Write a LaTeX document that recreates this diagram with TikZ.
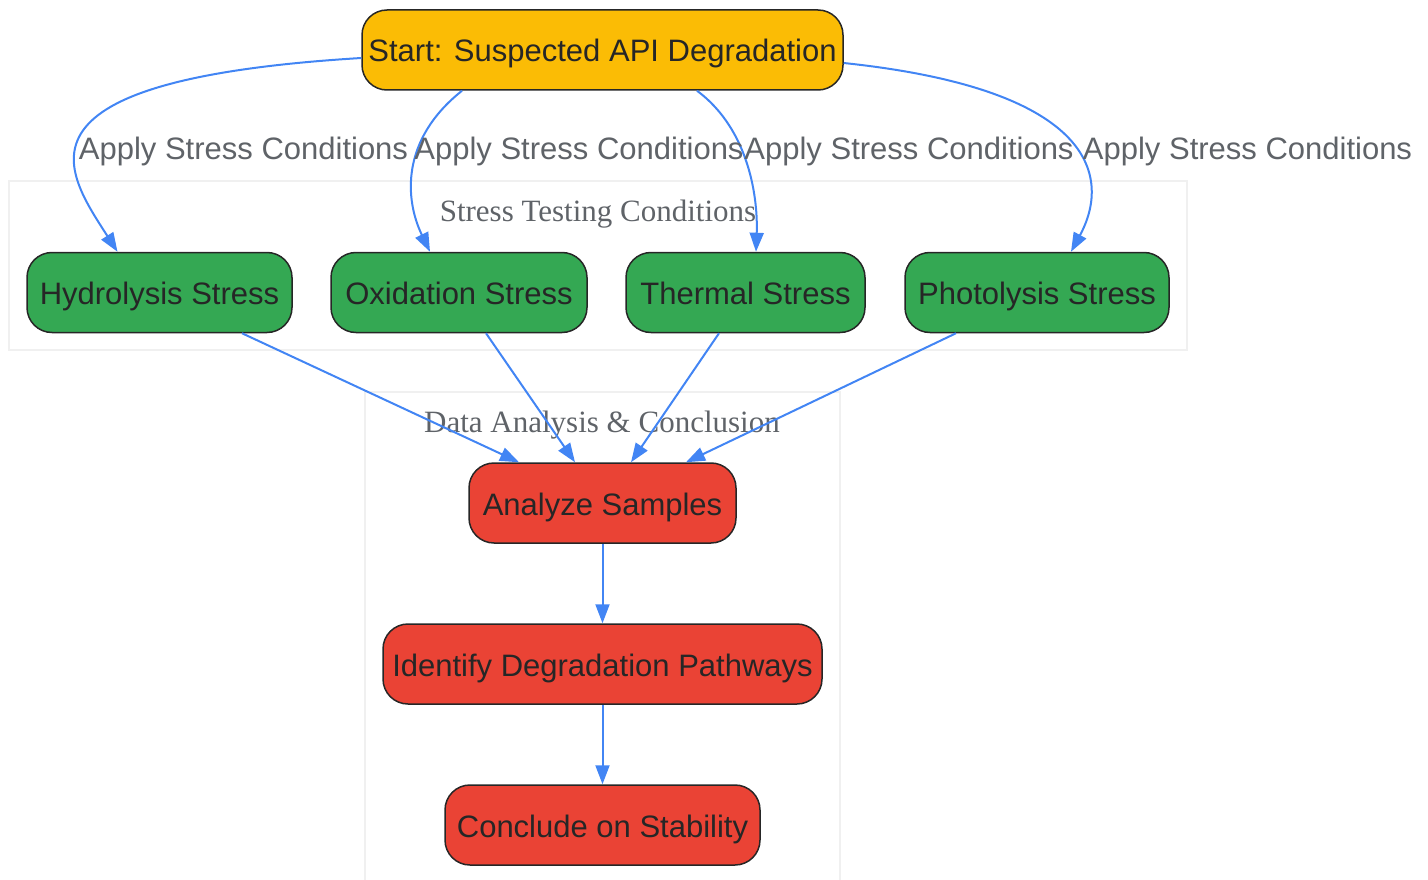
\documentclass[tikz,border=0pt]{standalone}
\usepackage{fontspec}
\setmainfont{Liberation Serif}
\setsansfont{Liberation Sans}
\usetikzlibrary{arrows.meta}
\definecolor{gyellow}{HTML}{FBBC05}
\definecolor{ggreen}{HTML}{34A853}
\definecolor{gred}{HTML}{EA4335}
\definecolor{gblue}{HTML}{4285F4}
\definecolor{ggray}{HTML}{5F6368}
\definecolor{bordgris}{HTML}{F0F0F0}
\begin{document}
\begin{tikzpicture}[x=1pt,y=-1pt,
  etape/.style={draw=black!85,line width=1.5pt,rounded corners=25pt,minimum height=80pt,text height=24pt,text depth=0pt,font=\sffamily\fontsize{31}{37}\selectfont,text=black!85},
  fleche/.style={gblue,line width=2pt,-{Triangle[length=19pt,width=14pt]}},
  lbl/.style={text height=24pt,text depth=0pt,font=\sffamily\fontsize{31}{37}\selectfont,text=ggray},
  grp/.style={draw=bordgris,line width=1.5pt},
  grplbl/.style={text height=24pt,text depth=0pt,font=\rmfamily\fontsize{31}{37}\selectfont,text=ggray}]
\useasboundingbox (0,0) rectangle (1428,880);
% les deux groupes
\draw[grp] (9,181) rectangle (1187,350);
\draw[grp] (365,392) rectangle (840,884);
\node[grplbl] (g1) at (598,210) {Stress Testing Conditions};
\node[grplbl] (g2) at (602,420) {Data Analysis \& Conclusion};
% les etapes
\node[etape,fill=gyellow,minimum width=481pt] (start) at (602.5,50) {Start: Suspected API Degradation};
\foreach \i/\x/\w/\t in {1/159.5/265/Hydrolysis, 2/459/256/Oxidation, 3/745.5/239/Thermal, 4/1037/264/Photolysis}
  \node[etape,fill=ggreen,minimum width=\w pt] (s\i) at (\x,292.5) {\t{} Stress};
\node[etape,fill=gred,minimum width=267pt] (r1) at (602.5,503) {Analyze Samples};
\node[etape,fill=gred,minimum width=439pt] (r2) at (602.5,664) {Identify Degradation Pathways};
\node[etape,fill=gred,minimum width=315pt] (r3) at (602.5,825) {Conclude on Stability};
% les fleches
\draw[fleche] ([yshift=-8pt]start.west) .. controls (0,80) and (65,170) .. ([xshift=-42pt]s1.north);
\draw[fleche] ([xshift=-140.5pt]start.south) .. controls (400,140) and (405,200) .. ([xshift=-29pt]s2.north);
\draw[fleche] ([xshift=94.5pt]start.south) .. controls (750,130) and (758,200) .. ([xshift=10.5pt]s3.north);
\draw[fleche] ([yshift=-13pt]start.east) .. controls (1100,90) and (1110,180) .. ([xshift=34pt]s4.north);
\foreach \i/\x in {1/243.5, 2/579, 3/909, 4/1247.5}
  \node[lbl] (l\i) at (\x,148) {Apply Stress Conditions};
\foreach \i/\a/\b in {1/82.5/-83.5, 2/27/-27.5, 3/-26.5/28.5, 4/-81/83.5}
  \draw[fleche] ([xshift=\a pt]s\i.south) -- ([xshift=\b pt]r1.north);
\draw[fleche] (r1) -- (r2);
\draw[fleche] (r2) -- (r3);
\end{tikzpicture}
\end{document}
